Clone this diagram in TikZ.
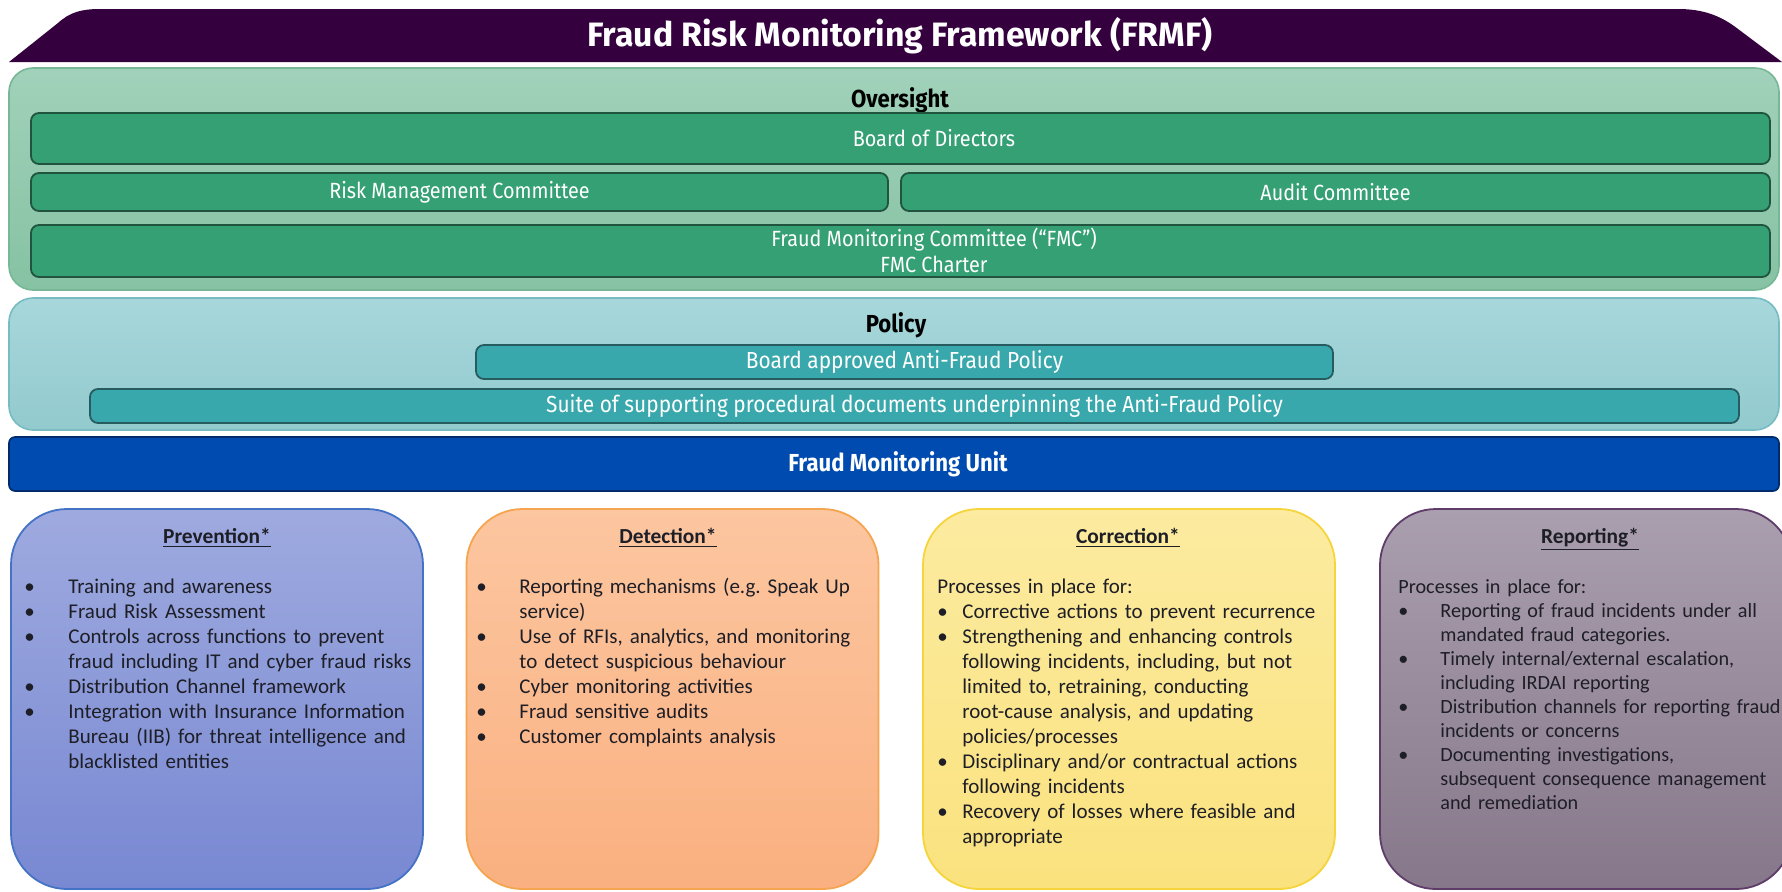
\documentclass[tikz,border=0pt]{standalone}
\usepackage{fontspec}
\setmainfont{Carlito}
\newfontfamily\headfont[FakeStretch=0.9]{Fira Sans}
\newfontfamily\titlefont{Fira Sans}
\usetikzlibrary{positioning}

% colours of the layers
\definecolor{frmfPurple}{RGB}{52,0,62}
\definecolor{overLight}{RGB}{161,209,186}
\definecolor{overDark}{RGB}{134,194,163}
\definecolor{overEdge}{RGB}{118,184,150}
\definecolor{overBox}{RGB}{52,160,116}
\definecolor{overBoxEdge}{RGB}{32,84,62}
\definecolor{polLight}{RGB}{167,215,219}
\definecolor{polDark}{RGB}{146,202,206}
\definecolor{polEdge}{RGB}{118,188,194}
\definecolor{polBox}{RGB}{57,168,172}
\definecolor{polBoxEdge}{RGB}{38,92,96}
\definecolor{unitBlue}{RGB}{0,75,175}
\definecolor{unitEdge}{RGB}{0,42,105}
\definecolor{prevLight}{RGB}{158,170,223}
\definecolor{prevDark}{RGB}{120,136,210}
\definecolor{prevEdge}{RGB}{68,114,196}
\definecolor{detLight}{RGB}{252,198,160}
\definecolor{detDark}{RGB}{250,176,128}
\definecolor{detEdge}{RGB}{245,165,80}
\definecolor{corLight}{RGB}{252,235,160}
\definecolor{corDark}{RGB}{250,226,126}
\definecolor{corEdge}{RGB}{246,212,60}
\definecolor{repLight}{RGB}{170,159,174}
\definecolor{repDark}{RGB}{134,120,138}
\definecolor{repEdge}{RGB}{95,60,105}
\definecolor{pillarText}{RGB}{30,30,38}

% one bullet paragraph with a hanging indent
\newcommand{\bul}[2][22pt]{\hangindent=#1\hangafter=1\noindent\makebox[#1][l]{\textbullet}#2\par}

\tikzset{
  layer/.style={rounded corners=12pt, line width=0.8pt, inner sep=0pt},
  layer title/.style={font=\headfont\bfseries\fontsize{12.3}{14}\selectfont, anchor=base},
  committee/.style={draw=overBoxEdge, fill=overBox, rounded corners=4pt, line width=0.9pt,
    text=white, inner sep=0pt, align=center, font=\headfont\fontsize{11}{13}\selectfont},
  policy doc/.style={committee, draw=polBoxEdge, fill=polBox, font=\headfont\fontsize{11.6}{13}\selectfont},
  box text/.style={text=white, inner sep=0pt, align=center, font=\headfont\fontsize{11}{13}\selectfont},
  pillar/.style={rounded corners=28pt, line width=0.9pt, minimum width=206pt, minimum height=190pt},
  pillar title/.style={anchor=base, text=pillarText, font=\bfseries\fontsize{10.7}{12.5}\selectfont},
  pillar list/.style={anchor=base west, inner sep=0pt, text width=215pt, text=pillarText,
    font=\fontsize{10.5}{12.5}\selectfont},
}

\begin{document}
\begin{tikzpicture}[x=0.5pt, y=-0.5pt]
  \useasboundingbox (0,0) rectangle (1782,891);
  \clip (0,0) rectangle (1782,891);
  \fill[white] (0,0) rectangle (1782,891);

  % title banner
  \fill[frmfPurple] (9,62) -- (58,23) .. controls (70,12) and (82,9) .. (100,9) -- (1678,9)
    .. controls (1702,9) and (1720,15) .. (1738,29) -- (1782,62) -- cycle;
  \node[text=white, font=\titlefont\bfseries\fontsize{16.9}{19}\selectfont] (Title) at (900,36)
    {Fraud Risk Monitoring Framework (FRMF)};

  % oversight
  \node[layer, draw=overEdge, top color=overLight, bottom color=overDark,
    minimum width=885pt, minimum height=111pt] (Oversight) at (894,179) {};
  \node[layer title] (Oversight Title) at (900,107) {Oversight};
  \node[committee, minimum width=869.5pt, minimum height=25.5pt] (Board) at (900.5,138.5) {};
  \node[box text] (Board Text) at (934,138.5) {Board of Directors};
  \node[committee, minimum width=428.5pt, minimum height=19pt] (Risk Committee) at (459.5,192) {Risk Management Committee};
  \node[committee, minimum width=434.5pt, minimum height=19pt] (Audit Committee) at (1335.5,192) {Audit Committee};
  \node[committee, minimum width=869.5pt, minimum height=26pt] (FMC) at (900.5,251) {};
  \node[box text] (FMC Text) at (934,250) {Fraud Monitoring Committee (“FMC”)\\FMC Charter};

  % policy
  \node[layer, draw=polEdge, top color=polLight, bottom color=polDark,
    minimum width=885pt, minimum height=66pt] (Policy) at (894,364) {};
  \node[layer title] (Policy Title) at (896,332) {Policy};
  \node[policy doc, minimum width=428.5pt, minimum height=17pt] (Anti-Fraud Policy) at (904.5,362) {Board approved Anti-Fraud Policy};
  \node[policy doc, minimum width=824.5pt, minimum height=17pt] (Procedures) at (914.5,406)
    {Suite of supporting procedural documents underpinning the Anti-Fraud Policy};

  % monitoring unit
  \node[layer, rounded corners=3pt, draw=unitEdge, fill=unitBlue, minimum width=885pt, minimum height=27pt] (Unit) at (894,464) {};
  \node[text=white, inner sep=0pt, font=\headfont\bfseries\fontsize{12.3}{14}\selectfont] (Unit Text) at (898,464) {Fraud Monitoring Unit};

  % the four pillars
  \node[pillar, draw=prevEdge, top color=prevLight, bottom color=prevDark] (Prevention) at (217,699) {};
  \node[pillar, draw=detEdge, top color=detLight, bottom color=detDark] (Detection) at (672.5,699) {};
  \node[pillar, draw=corEdge, top color=corLight, bottom color=corDark] (Correction) at (1129,699) {};
  \node[pillar, draw=repEdge, top color=repLight, bottom color=repDark] (Reporting) at (1586,699) {};

  \node[pillar title] (Prevention Title) at (217,543) {\underline{Prevention*}};
  \node[pillar title] (Detection Title) at (668,543) {\underline{Detection*}};
  \node[pillar title] (Correction Title) at (1128,543) {\underline{Correction*}};
  \node[pillar title] (Reporting Title) at (1590,543) {\underline{Reporting*}};

  \node[pillar list] (Prevention List) at (24,593) {\raggedright\parindent=0pt
    \bul{Training and awareness}
    \bul{Fraud Risk Assessment}
    \bul{Controls across functions to prevent\newline fraud including IT and cyber fraud risks}
    \bul{Distribution Channel framework}
    \bul{Integration with Insurance Information\newline Bureau (IIB) for threat intelligence and\newline blacklisted entities}};
  \node[pillar list] (Detection List) at (476,593) {\raggedright\parindent=0pt
    \bul[21.5pt]{Reporting mechanisms (e.g.\ Speak Up\newline service)}
    \bul[21.5pt]{Use of RFIs, analytics, and monitoring\newline to detect suspicious behaviour}
    \bul[21.5pt]{Cyber monitoring activities}
    \bul[21.5pt]{Fraud sensitive audits}
    \bul[21.5pt]{Customer complaints analysis}};
  \node[pillar list] (Correction List) at (937,593) {\raggedright\parindent=0pt
    Processes in place for:\par
    \bul[12.5pt]{Corrective actions to prevent recurrence}
    \bul[12.5pt]{Strengthening and enhancing controls\newline following incidents, including, but not\newline limited to, retraining, conducting\newline root-cause analysis, and updating\newline policies/processes}
    \bul[12.5pt]{Disciplinary and/or contractual actions\newline following incidents}
    \bul[12.5pt]{Recovery of losses where feasible and\newline appropriate}};
  \node[pillar list, font=\fontsize{10.1}{12}\selectfont] (Reporting List) at (1398,593) {\raggedright\parindent=0pt
    Processes in place for:\par
    \bul[21pt]{Reporting of fraud incidents under all\newline mandated fraud categories.}
    \bul[21pt]{Timely internal/external escalation,\newline including IRDAI reporting}
    \bul[21pt]{Distribution channels for reporting fraud\newline incidents or concerns}
    \bul[21pt]{Documenting investigations,\newline subsequent consequence management\newline and remediation}};
\end{tikzpicture}
\end{document}
